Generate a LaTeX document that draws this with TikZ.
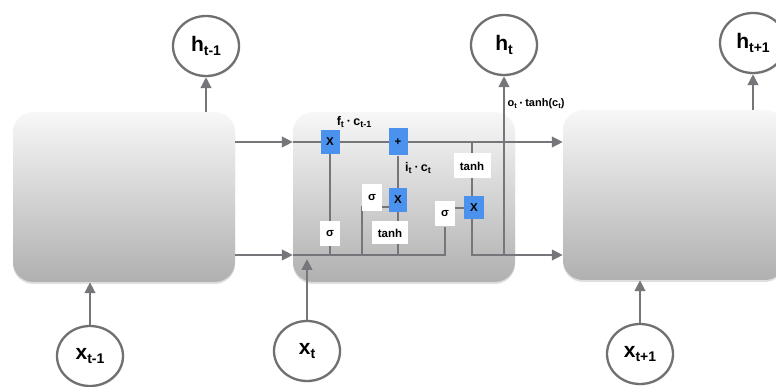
\documentclass[tikz,border=0pt]{standalone}
\usepackage{fontspec}
\setmainfont{Liberation Sans}
\usetikzlibrary{shapes.geometric,arrows.meta,shadows}
\definecolor{ln}{RGB}{118,118,122}
\definecolor{ring}{RGB}{112,112,114}
\definecolor{gateblue}{RGB}{74,146,238}
\pgfdeclarelayer{back}
\pgfdeclarelayer{mid}
\pgfsetlayers{back,mid,main}
\newcommand{\lsub}[2]{\raisebox{-#1}{#2}}
\newcommand{\bigsub}[1]{\lsub{4pt}{\fontsize{14}{14}\selectfont #1}}
\newcommand{\smsub}[1]{\lsub{2.5pt}{\fontsize{9}{9}\selectfont #1}}
\newcommand{\osub}[1]{\lsub{2pt}{\fontsize{7.5}{8}\selectfont #1}}
\newcommand{\mydot}{\raisebox{1.5pt}{\fontsize{7}{7}\selectfont •}}
\begin{document}
\begin{tikzpicture}[x=1pt,y=-1pt,
  cellbox/.style={rectangle, rounded corners=20pt, inner sep=0pt,
    minimum width=222pt, minimum height=170pt,
    top color=black!3, bottom color=black!31,
    drop shadow={opacity=0.25, shadow xshift=0pt, shadow yshift=-2pt}},
  ring/.style={ellipse, draw=ring, line width=2.3pt, fill=white, inner sep=0pt,
    minimum width=66pt, minimum height=60pt, font=\bfseries\fontsize{21}{21}\selectfont,
    drop shadow={opacity=0.15, shadow xshift=1pt, shadow yshift=-1.5pt}},
  gate/.style={rectangle, fill=gateblue, inner sep=0pt, minimum width=19pt,
    minimum height=24pt, font=\bfseries\fontsize{11.5}{12}\selectfont},
  wbox/.style={rectangle, fill=white, inner sep=0pt, minimum height=24pt,
    font=\bfseries\fontsize{11.5}{12}\selectfont},
  lbl/.style={inner sep=0pt, font=\bfseries\fontsize{12.5}{13}\selectfont},
  ln/.style={draw=ln, line width=2.4pt},
  arr/.style={ln, -{Triangle[length=11pt,width=10.5pt]}}]
\useasboundingbox (0,0) rectangle (776,387);

% cells
\begin{pgfonlayer}{back}
\node[cellbox] (L) at (124,197) {};
\node[cellbox] (M) at (404,197) {};
\node[cellbox] (R) at (674,195) {};
\end{pgfonlayer}

% reference rows
\coordinate (ytop) at (0,142);
\coordinate (ybot) at (0,255);
\coordinate (yi) at (0,207);
\coordinate (xin) at (307,259);

% gates
\node[gate] (fx) at (330,142) {X};
\node[gate, minimum height=27pt] (plus) at (398,142) {+};
\node[gate, minimum width=18pt] (ix) at (398,200) {X};
\node[gate, minimum width=20pt, minimum height=23pt] (ox) at (474,208) {X};
\node[wbox, minimum width=20pt, minimum height=25pt] (sf) at (330,234) {σ};
\node[wbox, minimum width=20pt, minimum height=27pt] (si) at (372,198) {σ};
\node[wbox, minimum width=36pt, minimum height=23pt] (ti) at (390,233) {tanh};
\node[wbox, minimum width=20pt, minimum height=25pt] (so) at (445,214) {σ};
\node[wbox, minimum width=37pt, minimum height=25pt] (to) at (472,166) {tanh};

% labels
\node[lbl] (fl) at (354,122) {f\smsub{t} \mydot\ c\smsub{t-1}};
\node[lbl] (il) at (418,168) {i\smsub{t} \mydot\ c\smsub{t}};
\node[lbl, font=\bfseries\fontsize{11}{12}\selectfont] (ol) at (536,104) {o\osub{t} \mydot\ tanh(c\osub{t})};

% circles
\node[ring] (hm) at (206,46) {h\bigsub{t-1}};
\node[ring] (h0) at (504,45) {h\bigsub{t}};
\node[ring] (hp) at (753,43) {h\bigsub{t+1}};
\node[ring] (xm) at (90,356) {x\bigsub{t-1}};
\node[ring] (x0) at (307,351) {x\bigsub{t}};
\node[ring] (xp) at (640,354) {x\bigsub{t+1}};

% connectors
\begin{pgfonlayer}{mid}
\draw[arr] (L.east |- ytop) -- (M.west |- ytop);
\draw[arr] (L.east |- ybot) -- (M.west |- ybot);
\draw[arr] (M.west |- ytop) -- (R.west |- ytop);
\draw[ln] (M.west |- ybot) -- (so.south |- ybot) -- (so.south);
\draw[ln] (fx) -- (fx |- ybot);
\draw[ln] (plus) -- (plus |- ybot);
\draw[ln] (si.south west |- ybot) -- (si.south west |- yi) -- (ix.west |- yi);
\draw[ln] (so.east |- ox) -- (ox.west);
\draw[arr] (to |- ytop) -- (to |- ybot) -- (R.west |- ybot);
\draw[arr] (h0 |- ybot) -- (h0.south);
\draw[arr] (L.north -| hm) -- (hm.south);
\draw[arr] (R.north -| hp) -- (hp.south);
\draw[arr] (xm.north) -- (xm |- L.south);
\draw[arr] (xp.north) -- (xp |- R.south);
\draw[arr] (x0.north) -- (xin);
\end{pgfonlayer}
\end{tikzpicture}
\end{document}
